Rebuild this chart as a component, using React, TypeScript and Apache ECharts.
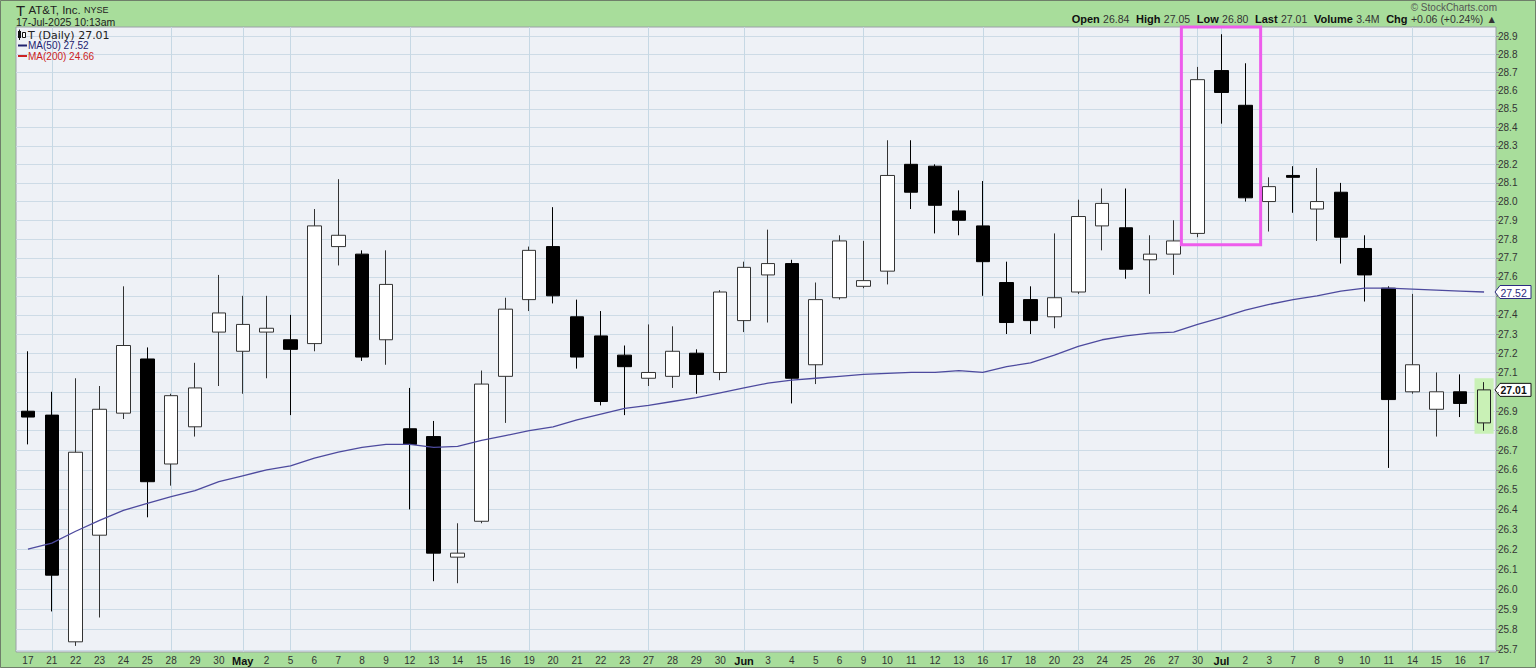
import React, { useEffect, useRef } from 'react';
import * as echarts from 'echarts';

// ---------- data ----------
const dates = [
  '2025-04-17', '2025-04-21', '2025-04-22', '2025-04-23', '2025-04-24', '2025-04-25', '2025-04-28', '2025-04-29', '2025-04-30',
  '2025-05-01', '2025-05-02', '2025-05-05', '2025-05-06', '2025-05-07', '2025-05-08', '2025-05-09', '2025-05-12', '2025-05-13',
  '2025-05-14', '2025-05-15', '2025-05-16', '2025-05-19', '2025-05-20', '2025-05-21', '2025-05-22', '2025-05-23', '2025-05-27',
  '2025-05-28', '2025-05-29', '2025-05-30',
  '2025-06-02', '2025-06-03', '2025-06-04', '2025-06-05', '2025-06-06', '2025-06-09', '2025-06-10', '2025-06-11', '2025-06-12',
  '2025-06-13', '2025-06-16', '2025-06-17', '2025-06-18', '2025-06-20', '2025-06-23', '2025-06-24', '2025-06-25', '2025-06-26',
  '2025-06-27', '2025-06-30',
  '2025-07-01', '2025-07-02', '2025-07-03', '2025-07-07', '2025-07-08', '2025-07-09', '2025-07-10', '2025-07-11', '2025-07-14',
  '2025-07-15', '2025-07-16', '2025-07-17',
];

const opens = [
  26.90, 26.88, 25.74, 26.27, 26.89, 27.17, 26.63, 26.82, 27.31,
  27.21, 27.31, 27.27, 27.25, 27.76, 27.72, 27.27, 26.81, 26.77, 26.16, 26.34, 27.08, 27.48, 27.76, 27.39, 27.29, 27.19, 27.07, 27.08, 27.20, 27.10,
  27.37, 27.61, 27.67, 27.14, 27.49, 27.55, 27.63, 28.20, 28.19, 27.95, 27.87, 27.57, 27.48, 27.39, 27.52, 27.87, 27.86, 27.69, 27.72, 27.83,
  28.71, 28.52, 28.00, 28.14, 27.96, 28.05, 27.75, 27.54, 27.00, 26.91, 27.00, 26.84,
];
const highs = [
  27.21, 27.00, 27.07, 27.03, 27.55, 27.23, 26.99, 27.15, 27.61,
  27.50, 27.50, 27.40, 27.96, 28.12, 27.74, 27.74, 27.02, 26.85, 26.33, 27.11, 27.49, 27.76, 27.97, 27.48, 27.42, 27.24, 27.35, 27.34, 27.22, 27.53,
  27.68, 27.85, 27.69, 27.57, 27.82, 27.79, 28.33, 28.33, 28.20, 28.06, 28.11, 27.68, 27.55, 27.83, 28.01, 28.07, 28.07, 27.82, 27.90, 28.73,
  28.91, 28.75, 28.13, 28.19, 28.18, 28.10, 27.82, 27.55, 27.51, 27.10, 27.09, 27.05,
];
const lows = [
  26.73, 25.89, 25.72, 25.86, 26.86, 26.36, 26.52, 26.77, 27.03,
  26.99, 27.07, 26.88, 27.21, 27.66, 27.16, 27.14, 26.40, 26.04, 26.03, 26.33, 26.84, 27.42, 27.46, 27.12, 26.93, 26.88, 27.03, 27.02, 26.99, 27.06,
  27.31, 27.36, 26.94, 27.04, 27.48, 27.54, 27.56, 27.96, 27.83, 27.82, 27.50, 27.30, 27.30, 27.33, 27.51, 27.74, 27.59, 27.51, 27.61, 27.81,
  28.42, 28.00, 27.84, 27.94, 27.79, 27.67, 27.47, 26.61, 26.99, 26.77, 26.87, 26.80,
];
const closes = [
  26.87, 26.07, 26.69, 26.91, 27.24, 26.54, 26.98, 27.02, 27.41,
  27.35, 27.33, 27.22, 27.87, 27.82, 27.18, 27.56, 26.73, 26.18, 26.18, 27.04, 27.43, 27.74, 27.50, 27.18, 26.95, 27.13, 27.10, 27.21, 27.09, 27.52,
  27.65, 27.67, 27.07, 27.48, 27.79, 27.58, 28.14, 28.05, 27.98, 27.90, 27.68, 27.36, 27.37, 27.49, 27.92, 27.99, 27.64, 27.72, 27.79, 28.66,
  28.59, 28.02, 28.08, 28.13, 28.00, 27.81, 27.61, 26.96, 27.14, 27.00, 26.94, 27.01,
];
const ma50 = [
  26.20, 26.23, 26.29, 26.345, 26.395, 26.43, 26.465, 26.495, 26.54,
  26.57, 26.60, 26.62, 26.66, 26.69, 26.715, 26.73, 26.73, 26.715, 26.72, 26.75, 26.775, 26.80, 26.82, 26.855, 26.885, 26.915, 26.93, 26.95, 26.97, 26.995,
  27.02, 27.045, 27.06, 27.07, 27.08, 27.09, 27.095, 27.10, 27.10, 27.11, 27.10, 27.13, 27.15, 27.19, 27.235, 27.27, 27.29, 27.305, 27.31, 27.35,
  27.385, 27.425, 27.455, 27.48, 27.50, 27.525, 27.54, 27.54, 27.535, 27.53, 27.525, 27.52,
];
const yTicks = [
  25.7, 25.8, 25.9, 26.0, 26.1, 26.2, 26.3, 26.4, 26.5, 26.6, 26.7, 26.8, 26.9, 27.0, 27.1, 27.2, 27.3,
  27.4, 27.5, 27.6, 27.7, 27.8, 27.9, 28.0, 28.1, 28.2, 28.3, 28.4, 28.5, 28.6, 28.7, 28.8, 28.9,
];
// labels hidden behind the price tags at 27.0 and 27.5
const yLabelValues = [
  25.7, 25.8, 25.9, 26.0, 26.1, 26.2, 26.3, 26.4, 26.5, 26.6, 26.7, 26.8, 26.9, 27.1, 27.2, 27.3,
  27.4, 27.6, 27.7, 27.8, 27.9, 28.0, 28.1, 28.2, 28.3, 28.4, 28.5, 28.6, 28.7, 28.8, 28.9,
];
const monthNames = ['Jan', 'Feb', 'Mar', 'Apr', 'May', 'Jun', 'Jul', 'Aug', 'Sep', 'Oct', 'Nov', 'Dec'];

const ticker = 'T';
const companyName = 'AT&T, Inc.';
const exchange = 'NYSE';
const timestamp = '17-Jul-2025 10:13am';
const quoteLabels = ['Open', 'High', 'Low', 'Last', 'Volume', 'Chg'];
const quoteValues = ['26.84', '27.05', '26.80', '27.01', '3.4M', '+0.06 (+0.24%)'];
const lastPrice = 27.01;
const ma50Last = 27.52;
const ma200Last = 24.66;
const boxStartIdx = 49;
const boxEndIdx = 51;
const boxLowPrice = 27.77;
const yMin = 25.69;
const yMax = 28.95;

const FONT = 'Liberation Sans, Arial, sans-serif';

function monthOf(d: string) {
  return parseInt(d.slice(5, 7), 10);
}
function weekLineIdx(): number[] {
  const out: number[] = [];
  for (let i = 1; i < dates.length; i++) {
    const a = new Date(dates[i - 1] + 'T00:00:00Z');
    const b = new Date(dates[i] + 'T00:00:00Z');
    const gap = (b.getTime() - a.getTime()) / 86400000;
    if (b.getUTCDay() < a.getUTCDay() || gap >= 7 || monthOf(dates[i]) !== monthOf(dates[i - 1])) out.push(i);
  }
  return out;
}

export default function App() {
  const ref = useRef<HTMLDivElement>(null);
  useEffect(() => {
    const chart = echarts.init(ref.current!, null, { renderer: 'svg' });
    const last = dates.length - 1;
    const candleData = dates.map((_, i) => {
      const v = [opens[i], closes[i], lows[i], highs[i]];
      return i === last ? { value: v, itemStyle: { color: '#c9f1b6', borderColor: '#222' } } : v;
    });
    const option: any = {
      animation: false,
      backgroundColor: '#a8dd9b',
      grid: {
        left: 16, top: 27, width: 1480, height: 625,
        show: true, backgroundColor: '#eef1f6', borderColor: '#9aa0a6', borderWidth: 1,
      },
      xAxis: {
        type: 'category',
        data: dates,
        boundaryGap: true,
        axisLine: { show: false },
        axisTick: { show: false },
        splitLine: { show: false },
        axisLabel: {
          interval: 0,
          margin: 3,
          fontSize: 10,
          color: '#333',
          fontFamily: FONT,
          formatter: (val: string, idx: number) => {
            if (idx > 0 && monthOf(val) !== monthOf(dates[idx - 1])) return `{b|${monthNames[monthOf(val) - 1]}}`;
            return String(parseInt(val.slice(8, 10), 10));
          },
          rich: { b: { fontWeight: 'bold', fontSize: 11, color: '#111', fontFamily: FONT } },
        },
      },
      yAxis: {
        type: 'log',
        logBase: 10,
        min: yMin,
        max: yMax,
        position: 'right',
        axisLine: { show: false },
        axisTick: { show: true, customValues: yTicks, length: 3, lineStyle: { color: '#888' } },
        axisLabel: {
          customValues: yLabelValues,
          formatter: (v: number) => Number(v).toFixed(1),
          fontSize: 10, color: '#333', margin: 2, fontFamily: FONT,
        },
        splitLine: { show: true, lineStyle: { color: '#cddbe6', width: 1 } },
      },
      series: [
        {
          type: 'line', data: [], z: 1, silent: true,
          markLine: {
            z: 1, silent: true, symbol: ['none', 'none'], label: { show: false },
            lineStyle: { color: '#c6d8e4', type: 'solid', width: 1 },
            data: weekLineIdx().map((i) => ({ xAxis: i })),
          },
        },
        {
          type: 'candlestick', name: 'T', z: 3, barWidth: 14,
          data: candleData,
          itemStyle: { color: '#ffffff', color0: '#000000', borderColor: '#333', borderColor0: '#000', borderWidth: 1 },
        },
        {
          type: 'line', name: 'MA(50)', data: ma50, z: 4, symbol: 'none', silent: true,
          lineStyle: { color: '#4d4a9e', width: 1.3 },
        },
      ],
    };
    chart.setOption(option);

    const px = (i: number, v: number) => chart.convertToPixel({ xAxisIndex: 0, yAxisIndex: 0 }, [i, v]) as number[];
    const band = px(1, 27)[0] - px(0, 27)[0];
    const boxL = px(boxStartIdx, yMax)[0] - band * 0.68;
    const boxR = px(boxEndIdx, yMax)[0] + band * 0.64;
    const boxTop = px(boxStartIdx, yMax)[1];
    const boxBot = px(boxStartIdx, boxLowPrice)[1];
    const hlX = px(last, 27)[0];
    const hlTop = px(last, highs[last])[1];
    const hlBot = px(last, lows[last])[1];
    const tagX = px(last, 27)[0] + band / 2 - 1;
    const yMa = px(last, ma50Last)[1];
    const yLast = px(last, lastPrice)[1];

    const tag = (y: number, text: string, stroke: string, color: string, bold: boolean) => ({
      type: 'group', x: tagX, y, z: 20,
      children: [
        { type: 'polygon', shape: { points: [[0, 0], [5, -6.5], [36, -6.5], [36, 6.5], [5, 6.5]] }, style: { fill: '#ffffff', stroke, lineWidth: 1 } },
        { type: 'text', x: 5.5, y: 0.5, style: { text, fill: color, fontSize: 10.5, fontWeight: bold ? 'bold' : 'normal', fontFamily: FONT, textVerticalAlign: 'middle' } },
      ],
    });

    const quoteText = quoteLabels.map((l, i) => `{l|${l}} {v|${quoteValues[i]}}`).join('  ') + ' {v|\u25B2}';

    chart.setOption({
      graphic: [
        { type: 'rect', z: 30, silent: true, shape: { x: 0.5, y: 0.5, width: 1535, height: 667 }, style: { fill: 'none', stroke: '#6f7f6a', lineWidth: 1 } },
        {
          type: 'text', x: 16, y: 10, z: 20,
          style: {
            text: `{t|${ticker}} {n|${companyName}} {x|${exchange}}`, textVerticalAlign: 'middle',
            rich: {
              t: { fontSize: 15, fontFamily: FONT, fill: '#222' },
              n: { fontSize: 11.5, fontFamily: FONT, fill: '#222' },
              x: { fontSize: 9, fontFamily: FONT, fill: '#222' },
            },
          },
        },
        { type: 'text', x: 16, y: 22, z: 20, style: { text: timestamp, fontSize: 10.5, fontFamily: FONT, fill: '#222', textVerticalAlign: 'middle' } },
        { type: 'text', x: 1497, y: 7, z: 20, style: { text: '\u00A9 StockCharts.com', fontSize: 10, fontFamily: FONT, fill: '#555', textAlign: 'right', textVerticalAlign: 'middle' } },
        {
          type: 'text', x: 1497, y: 19, z: 20,
          style: {
            text: quoteText, textAlign: 'right', textVerticalAlign: 'middle',
            rich: {
              l: { fontSize: 11, fontWeight: 'bold', fontFamily: FONT, fill: '#111' },
              v: { fontSize: 10.5, fontFamily: FONT, fill: '#333' },
            },
          },
        },
        // legend in plot
        { type: 'line', z: 20, shape: { x1: 19.5, y1: 29.5, x2: 19.5, y2: 40 }, style: { stroke: '#111', lineWidth: 1 } },
        { type: 'rect', z: 21, shape: { x: 18, y: 31, width: 3, height: 7 }, style: { fill: '#111' } },
        { type: 'rect', z: 21, shape: { x: 22.5, y: 32.5, width: 3, height: 5 }, style: { fill: '#fff', stroke: '#111', lineWidth: 1 } },
        { type: 'text', x: 28, y: 35, z: 20, style: { text: `${ticker} (Daily) ${lastPrice.toFixed(2)}`, fontSize: 11, fontFamily: 'DejaVu Sans, sans-serif', fill: '#222', textVerticalAlign: 'middle' } },
        { type: 'line', z: 20, shape: { x1: 18, y1: 45.5, x2: 27, y2: 45.5 }, style: { stroke: '#22226e', lineWidth: 2 } },
        { type: 'text', x: 28, y: 45.5, z: 20, style: { text: `MA(50) ${ma50Last.toFixed(2)}`, fontSize: 10, fontFamily: FONT, fill: '#22226e', textVerticalAlign: 'middle' } },
        { type: 'line', z: 20, shape: { x1: 18, y1: 56, x2: 27, y2: 56 }, style: { stroke: '#cc2222', lineWidth: 2 } },
        { type: 'text', x: 28, y: 56, z: 20, style: { text: `MA(200) ${ma200Last.toFixed(2)}`, fontSize: 10, fontFamily: FONT, fill: '#cc2222', textVerticalAlign: 'middle' } },
        // highlight of the last candle
        { type: 'rect', z: 1, silent: true, shape: { x: hlX - band * 0.4, y: hlTop - 4, width: band * 0.8, height: hlBot - hlTop + 7 }, style: { fill: '#c9f1b6' } },
        // magenta box
        { type: 'rect', z: 25, silent: true, shape: { x: boxL, y: boxTop, width: boxR - boxL, height: boxBot - boxTop }, style: { fill: 'none', stroke: '#ee5cec', lineWidth: 3 } },
        tag(yMa, ma50Last.toFixed(2), '#2c2c80', '#2c2c80', false),
        tag(yLast, lastPrice.toFixed(2), '#111', '#111', true),
      ],
    });

    return () => chart.dispose();
  }, []);
  return <div ref={ref} style={{ position: 'absolute', left: 0, top: 0, width: 1536, height: 668 }} />;
}
